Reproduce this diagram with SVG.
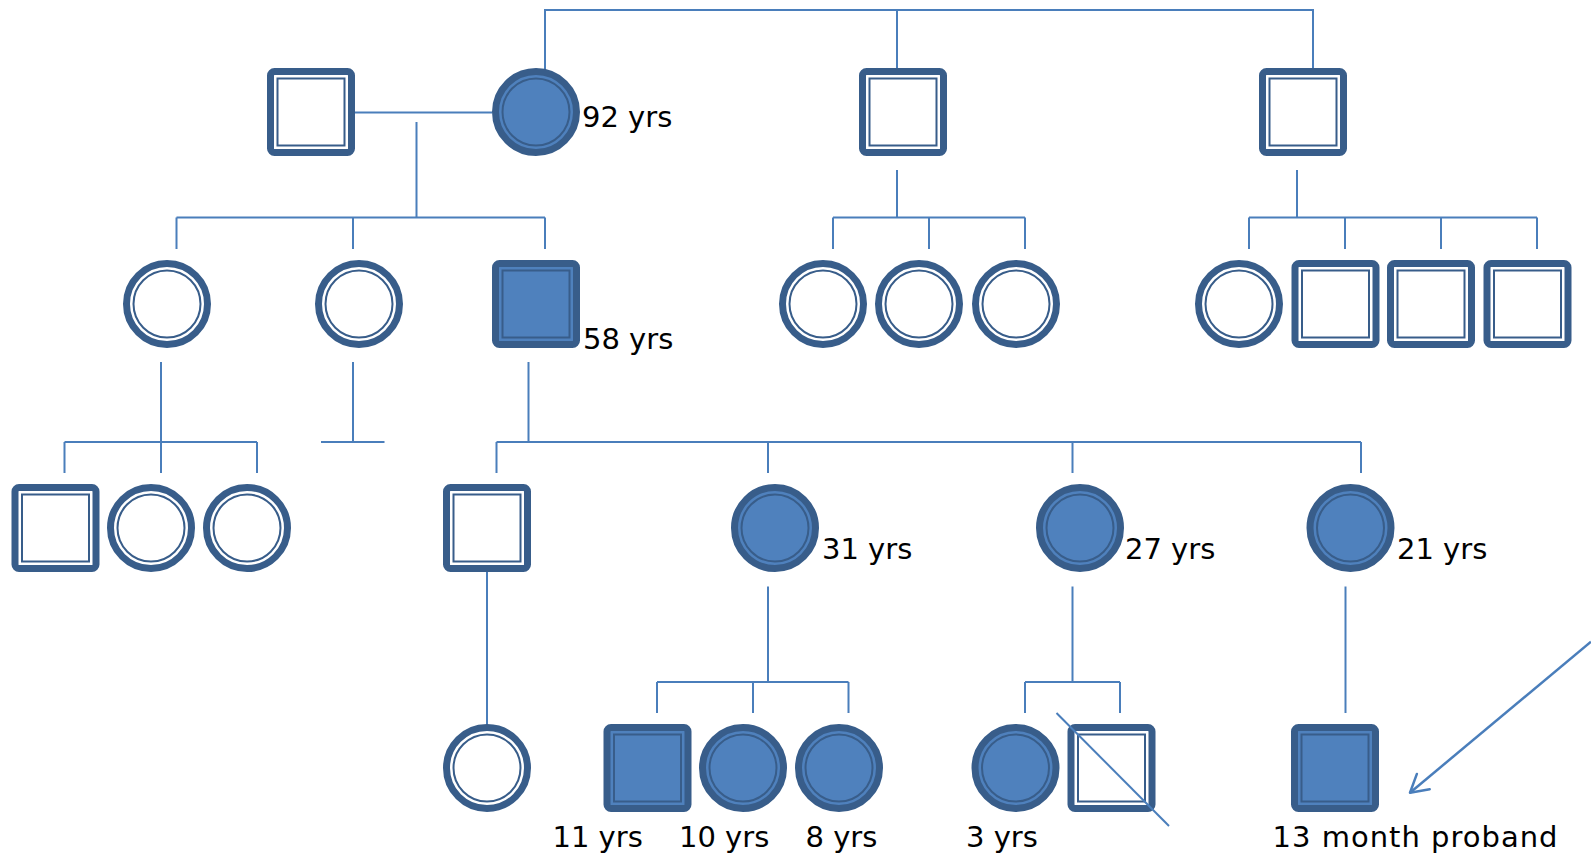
<svg xmlns="http://www.w3.org/2000/svg" xmlns:xlink="http://www.w3.org/1999/xlink" width="1591" height="854" viewBox="0 0 1591 854">
<style>
.o{stroke:#385D8A;stroke-width:7}
.i{fill:none;stroke:#385D8A;stroke-width:2}
.aff{fill:#4F81BD}
.un{fill:#FFFFFF}
.ln{fill:none;stroke:#4A7EBB;stroke-width:2}
.lbl{font-family:"DejaVu Sans","Verdana",sans-serif;font-size:29px;fill:#000}
</style>
<defs>
<g id="sq"><rect class="o" x="-40.5" y="-40.5" width="81" height="81" rx="4"/><rect class="i" x="-33.5" y="-33.5" width="67" height="67"/></g>
<g id="ci"><circle class="o" r="40.5"/><circle class="i" r="33.5"/></g>
<marker id="arr" markerUnits="userSpaceOnUse" markerWidth="30" markerHeight="30" viewBox="0 0 30 24" refX="20" refY="12" orient="auto" overflow="visible"><path d="M2.7,2 L20,12 L2.7,22" fill="none" stroke="#4A7EBB" stroke-width="2.5" stroke-linecap="round" stroke-linejoin="round"/></marker>
</defs>
<rect width="1591" height="854" fill="#FFFFFF"/>
<g id="connectors" class="ln">
<path d="M545,70 V10 H1313 V70 M897,10 V70"/>
<path d="M355,112.5 H492"/>
<path d="M416.5,122 V217.5 M176.5,217.5 H545 M176.5,217.5 V249 M353,217.5 V249 M545,217.5 V249"/>
<path d="M897,170 V217.5 M833,217.5 H1025 M833,217.5 V249 M929,217.5 V249 M1025,217.5 V249"/>
<path d="M1297,170 V217.5 M1249,217.5 H1537 M1249,217.5 V249 M1345,217.5 V249 M1441,217.5 V249 M1537,217.5 V249"/>
<path d="M161,362 V473 M64.5,442 H257 M64.5,442 V473 M257,442 V473"/>
<path d="M353,362 V442 M321,442 H384.5"/>
<path d="M528.5,362 V442 M496.5,442 H1361 M496.5,442 V473 M768,442 V473 M1072.5,442 V473 M1361,442 V473"/>
<path d="M487,572 V727"/>
<path d="M768,586.5 V682 M657,682 H848.5 M657,682 V713 M753,682 V713 M848.5,682 V713"/>
<path d="M1072.5,586.5 V682 M1025,682 H1120 M1025,682 V713 M1120,682 V713"/>
<path d="M1345.5,586.5 V713"/>
</g>
<g id="n_r1_1" class="un" transform="translate(311,112)"><use href="#sq" xlink:href="#sq"/></g>
<g id="n_r1_2" class="aff" transform="translate(536,112)"><use href="#ci" xlink:href="#ci"/></g>
<g id="n_r1_3" class="un" transform="translate(903,112)"><use href="#sq" xlink:href="#sq"/></g>
<g id="n_r1_4" class="un" transform="translate(1303,112)"><use href="#sq" xlink:href="#sq"/></g>
<g id="n_r2_1" class="un" transform="translate(167,304)"><use href="#ci" xlink:href="#ci"/></g>
<g id="n_r2_2" class="un" transform="translate(359,304)"><use href="#ci" xlink:href="#ci"/></g>
<g id="n_r2_3" class="aff" transform="translate(536,304)"><use href="#sq" xlink:href="#sq"/></g>
<g id="n_r2_4" class="un" transform="translate(823,304)"><use href="#ci" xlink:href="#ci"/></g>
<g id="n_r2_5" class="un" transform="translate(919,304)"><use href="#ci" xlink:href="#ci"/></g>
<g id="n_r2_6" class="un" transform="translate(1016,304)"><use href="#ci" xlink:href="#ci"/></g>
<g id="n_r2_7" class="un" transform="translate(1239,304)"><use href="#ci" xlink:href="#ci"/></g>
<g id="n_r2_8" class="un" transform="translate(1335.5,304)"><use href="#sq" xlink:href="#sq"/></g>
<g id="n_r2_9" class="un" transform="translate(1431,304)"><use href="#sq" xlink:href="#sq"/></g>
<g id="n_r2_10" class="un" transform="translate(1527.5,304)"><use href="#sq" xlink:href="#sq"/></g>
<g id="n_r3_1" class="un" transform="translate(55.5,528)"><use href="#sq" xlink:href="#sq"/></g>
<g id="n_r3_2" class="un" transform="translate(151,528)"><use href="#ci" xlink:href="#ci"/></g>
<g id="n_r3_3" class="un" transform="translate(247,528)"><use href="#ci" xlink:href="#ci"/></g>
<g id="n_r3_4" class="un" transform="translate(487,528)"><use href="#sq" xlink:href="#sq"/></g>
<g id="n_r3_5" class="aff" transform="translate(775,528)"><use href="#ci" xlink:href="#ci"/></g>
<g id="n_r3_6" class="aff" transform="translate(1080,528)"><use href="#ci" xlink:href="#ci"/></g>
<g id="n_r3_7" class="aff" transform="translate(1350.5,528)"><use href="#ci" xlink:href="#ci"/></g>
<g id="n_r4_1" class="un" transform="translate(487,768)"><use href="#ci" xlink:href="#ci"/></g>
<g id="n_r4_2" class="aff" transform="translate(647.5,768)"><use href="#sq" xlink:href="#sq"/></g>
<g id="n_r4_3" class="aff" transform="translate(743,768)"><use href="#ci" xlink:href="#ci"/></g>
<g id="n_r4_4" class="aff" transform="translate(839,768)"><use href="#ci" xlink:href="#ci"/></g>
<g id="n_r4_5" class="aff" transform="translate(1015.5,768)"><use href="#ci" xlink:href="#ci"/></g>
<g id="n_r4_6" class="un" transform="translate(1111.5,768)"><use href="#sq" xlink:href="#sq"/></g>
<g id="n_r4_7" class="aff" transform="translate(1335,768)"><use href="#sq" xlink:href="#sq"/></g>
<g id="marks" class="ln">
<path d="M1056.5,713 L1169,826"/>
<path d="M1591,641.7 L1410,792.7" marker-end="url(#arr)" style="stroke-width:2.5"/>
</g>
<g id="labels" class="lbl">
<text x="582" y="127">92 yrs</text>
<text x="583" y="349">58 yrs</text>
<text x="822" y="559">31 yrs</text>
<text x="1125" y="559">27 yrs</text>
<text x="1397" y="559">21 yrs</text>
<text x="552.5" y="847">11 yrs</text>
<text x="679" y="847">10 yrs</text>
<text x="805.5" y="847">8 yrs</text>
<text x="966" y="847">3 yrs</text>
<text x="1272.5" y="847" textLength="285" lengthAdjust="spacing">13 month proband</text>
</g>
</svg>
